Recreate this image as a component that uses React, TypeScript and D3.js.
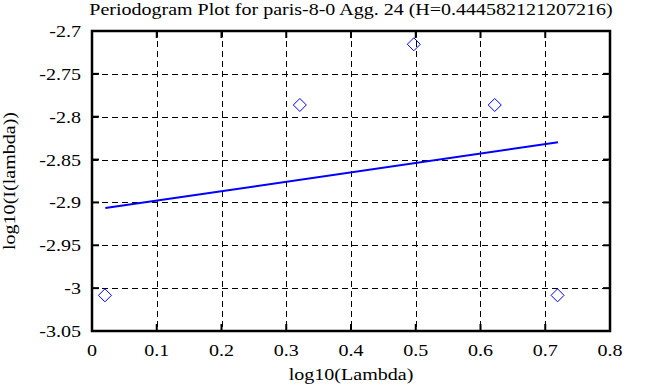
import React from "react";
import * as d3 from "d3";

// periodogram points (log10 lambda, log10 I(lambda))
const logLambda = [0.02, 0.321, 0.497, 0.622, 0.719];
const logI = [-3.0084, -2.7863, -2.7155, -2.7863, -3.0084];

// least squares fit, drawn between first and last frequency
const fitX = [0.0206, 0.7197];
const fitY = [-2.9065, -2.8299];

const xTicks = [0, 0.1, 0.2, 0.3, 0.4, 0.5, 0.6, 0.7, 0.8];
const yTicks = [-2.7, -2.75, -2.8, -2.85, -2.9, -2.95, -3, -3.05];

const title = "Periodogram Plot for paris-8-0 Agg. 24 (H=0.444582121207216)";
const xLabel = "log10(Lambda)";
const yLabel = "log10(I(lambda))";

const W = 657, H = 387;
const margin = { left: 92, right: 47, top: 31, bottom: 56 };
const font = "Liberation Serif, serif";
const fontSize = 17;
const stretch = 1.18; // the original font is wider than Liberation Serif

function Label({ x, y, anchor = "middle", rotate = 0, dy = "0", size = fontSize, sx = stretch, children }:
    { x: number; y: number; anchor?: string; rotate?: number; dy?: string; size?: number; sx?: number; children: string }) {
    return (
        <text transform={`translate(${x},${y}) rotate(${rotate}) scale(${sx},1)`}
            textAnchor={anchor} dy={dy} fontFamily={font} fontSize={size} fill="#000">
            {children}
        </text>
    );
}

export default function App() {
    const x = d3.scaleLinear().domain([0, 0.8]).range([margin.left, W - margin.right]);
    const y = d3.scaleLinear().domain([-3.05, -2.7]).range([H - margin.bottom, margin.top]);
    const [x0, x1] = x.range();
    const [y0, y1] = y.range();

    const line = d3.line<number>().x((d, i) => x(fitX[i])).y((d) => y(d));
    const r = 6.5;
    const tick = 7;

    return (
        <svg width={W} height={H} style={{ position: "absolute", left: 0, top: 0, background: "#fff" }}>
            <rect width={W} height={H} fill="#fff" />
            {/* grid */}
            <g stroke="#000" strokeWidth={1} strokeDasharray="6,4" fill="none">
                {xTicks.slice(1, -1).map((t) => (
                    <line key={"gx" + t} x1={Math.round(x(t)) + 0.5} x2={Math.round(x(t)) + 0.5} y1={y1} y2={y0} />
                ))}
                {yTicks.slice(1, -1).map((t) => (
                    <line key={"gy" + t} x1={x0} x2={x1} y1={Math.round(y(t)) + 0.5} y2={Math.round(y(t)) + 0.5} />
                ))}
            </g>
            {/* ticks */}
            <g stroke="#000" strokeWidth={2}>
                {xTicks.map((t) => (
                    <g key={"tx" + t}>
                        <line x1={x(t)} x2={x(t)} y1={y0} y2={y0 - tick} />
                        <line x1={x(t)} x2={x(t)} y1={y1} y2={y1 + tick} />
                    </g>
                ))}
                {yTicks.map((t) => (
                    <g key={"ty" + t}>
                        <line x1={x0} x2={x0 + tick} y1={y(t)} y2={y(t)} />
                        <line x1={x1} x2={x1 - tick} y1={y(t)} y2={y(t)} />
                    </g>
                ))}
            </g>
            <rect x={x0} y={y1} width={x1 - x0} height={y0 - y1} fill="none" stroke="#000" strokeWidth={2.5} />
            {/* fit */}
            <path d={line(fitY) || ""} fill="none" stroke="#0000ff" strokeWidth={2} />
            {/* points */}
            {logLambda.map((v, i) => {
                const cx = x(v), cy = y(logI[i]);
                return (
                    <path key={"p" + i}
                        d={`M${cx},${cy - r}L${cx + r},${cy}L${cx},${cy + r}L${cx - r},${cy}Z`}
                        fill="none" stroke="#0000ff" strokeWidth={1} />
                );
            })}
            {/* labels */}
            {xTicks.map((t) => (
                <Label key={"lx" + t} x={x(t)} y={356}>{String(t)}</Label>
            ))}
            {yTicks.map((t) => (
                <Label key={"ly" + t} x={81} y={y(t)} dy="0.35em" anchor="end">{String(t)}</Label>
            ))}
            <Label x={(x0 + x1) / 2} y={14.5} size={16} sx={1.25}>{title}</Label>
            <Label x={(x0 + x1) / 2} y={380}>{xLabel}</Label>
            <Label x={15} y={(y0 + y1) / 2} rotate={-90}>{yLabel}</Label>
        </svg>
    );
}
